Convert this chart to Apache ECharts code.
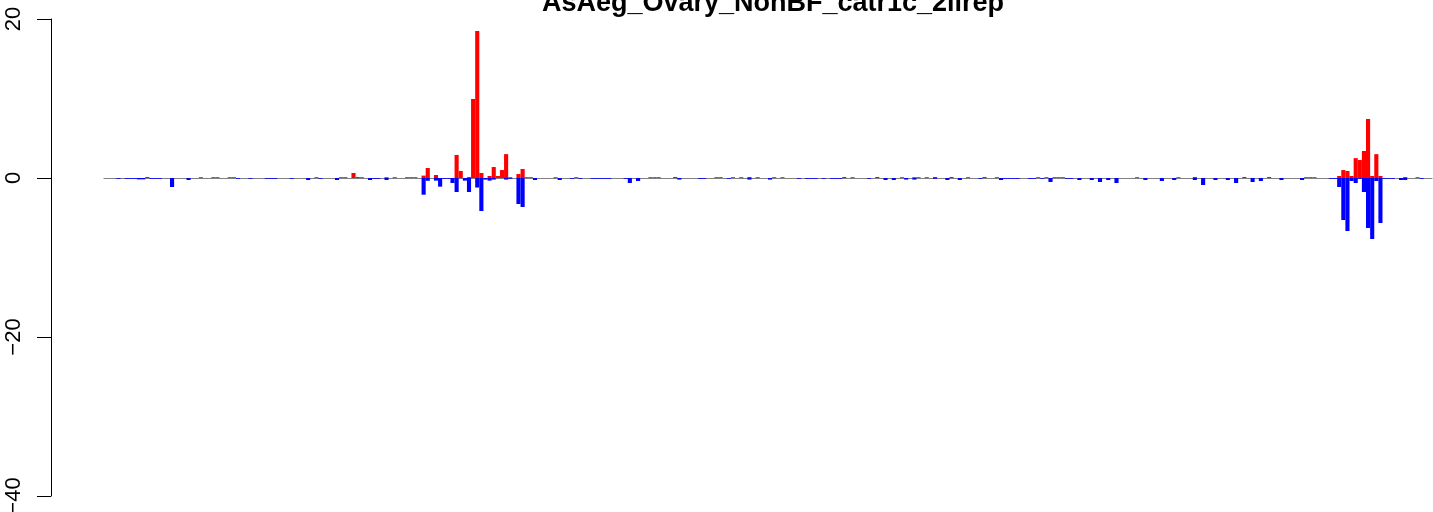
<!DOCTYPE html>
<html>
<head>
<meta charset="utf-8">
<script src="https://cdn.jsdelivr.net/npm/echarts@6/dist/echarts.min.js"></script>
<style>
html,body{margin:0;padding:0;background:#fff;}
#chart{width:1433px;height:512px;}
</style>
</head>
<body>
<div id="chart"></div>
<script>
var titleText = "AsAeg_Ovary_NonBF_catr1c_2ilrep";
var yTicks = [-40, -20, 0, 20];

// positive (red) values per bin, 322 bins
var redValues = [
0,0,0,0,0,0,0,0,0,0, 0.13,0,0,0,0,0,0,0,0,0,
0,0,0,0.1,0,0,0.1,0.1,0,0, 0.1,0.1,0,0,0,0,0,0,0,0,
0,0,0,0,0,0,0,0,0,0, 0,0.1,0,0,0,0,0,0.1,0.1,0,
0.63,0.13,0.1,0,0,0,0,0,0.1,0, 0.1,0,0,0.1,0.1,0.1,0,0.3,1.26,0,
0.38,0,0,0,0,2.9,0.88,0,0.12,9.94, 18.5,0.63,0,0.25,1.38,0.25,1.0,3.0,0.1,0,
0.5,1.13,0.1,0.1,0,0,0,0,0,0.1, 0,0,0,0,0.1,0,0,0,0,0,
0,0,0,0,0,0,0,0,0,0, 0,0,0.1,0.1,0.1,0,0,0,0.13,0,
0,0,0,0,0,0,0,0,0.1,0.1, 0,0,0.1,0,0.1,0,0.13,0,0.1,0,
0,0,0.1,0,0.1,0,0,0,0,0, 0,0,0,0,0,0,0,0,0,0.13,
0,0.1,0,0,0,0,0,0.13,0,0, 0,0,0,0.1,0,0,0.1,0.1,0,0.1,
0,0.13,0,0,0,0.13,0,0,0,0.1, 0,0,0,0.13,0,0,0.1,0,0,0,
0,0,0,0,0,0,0.1,0,0.1,0, 0.1,0.1,0.1,0,0,0,0,0,0,0,
0,0,0,0,0,0,0,0,0,0, 0.1,0,0,0,0,0,0,0,0,0,
0.1,0,0,0,0.13,0,0,0,0,0, 0,0,0,0,0,0,0.13,0,0,0,
0,0,0.13,0,0,0,0,0,0,0, 0,0.1,0.1,0.1,0,0,0,0,0,0.25,
1.0,0.88,0.25,2.5,2.26,3.4,7.42,0.25,3.0,0.25, 0,0,0,0,0,0.12,0,0,0.1,0,
0,0
];

// negative (blue) values per bin
var blueValues = [
0,0,0,-0.1,0,-0.1,-0.1,-0.1,-0.17,-0.17, 0,-0.1,-0.1,-0.1,0,0,-1.13,0,0,0,
-0.25,0,0,0,0,0,0,0,0,0, 0,0,-0.1,0,0,-0.1,0,0,0,-0.1,
-0.1,-0.1,0,0,0,-0.1,0,0,0,-0.25, 0,0,-0.1,0,0,0,-0.25,0,0,0,
0,0,0,0,-0.25,-0.1,-0.1,0,-0.25,0, 0,0,0,0,0,0,0,-2.1,-0.35,0,
-0.33,-1.09,-0.1,-0.1,-0.63,-1.76,0,-0.33,-1.76,0, -1.2,-4.15,-0.2,-0.33,-0.2,0,0,-0.2,-0.1,0,
-3.27,-3.65,0,0,-0.25,0,0,0,0,0, -0.25,0,0,-0.1,0,-0.1,0,0,-0.1,-0.1,
-0.1,-0.1,-0.1,0,0,0,-0.1,-0.63,0,-0.38, 0,0,0,0,0,0,0,0,0,-0.2,
0,0,0,0,-0.1,-0.1,0,0,0,0, 0,-0.1,0,0,0,0,-0.2,0,0,0,
0,-0.2,0,0,0,0,0,0,-0.1,0, -0.1,-0.1,-0.1,0,-0.1,0,-0.1,-0.1,-0.1,0,
0,0,0,0,0,-0.1,0,0,0,-0.25, 0,-0.25,0,0,-0.2,0,-0.2,0,0,0,
0,-0.1,0,0,-0.25,0,0,-0.25,0,0, 0,0,-0.1,0,0,0,0,-0.25,-0.1,-0.1,
-0.1,-0.1,0,0,-0.1,-0.1,0,-0.1,0,-0.5, 0,0,0,-0.1,-0.1,0,-0.25,0,0,-0.25,
0,-0.5,0,-0.25,0,-0.63,0,0,0,0, 0,0,-0.25,0,0,0,-0.38,0,0,-0.25,
0,0,0,0,-0.25,0,-0.88,0,0,-0.25, 0,0,-0.25,0,-0.63,0,0,0,-0.5,0,
-0.38,0,0,0,0,-0.25,0,0,0,0, -0.25,0,0,0,0,0,0,-0.1,-0.1,-1.13,
-5.28,-6.67,-0.38,-0.63,-0.1,-1.76,-6.29,-7.67,-0.38,-5.66, -0.1,-0.1,-0.1,0,-0.25,-0.25,0,0,0,-0.1,
0,0
];

var categories = redValues.map(function (_, i) { return String(i + 1); });

var chart = echarts.init(document.getElementById('chart'), null, {renderer: 'canvas'});
chart.setOption({
  animation: false,
  backgroundColor: '#ffffff',
  title: {
    text: titleText,
    left: 768,
    top: -15,
    textAlign: 'center',
    textStyle: {fontFamily: 'Liberation Sans', fontWeight: 'bold', fontSize: 27, color: '#000'}
  },
  grid: {left: 104, top: 19, width: 1328, height: 477, containLabel: false, outerBoundsMode: 'none'},
  xAxis: {
    type: 'category',
    data: categories,
    boundaryGap: true,
    axisLine: {onZero: true, lineStyle: {color: '#808080', width: 1.2}},
    axisTick: {show: false},
    axisLabel: {show: false},
    splitLine: {show: false}
  },
  yAxis: {
    type: 'value',
    min: yTicks[0],
    max: yTicks[yTicks.length - 1],
    interval: 20,
    offset: 53,
    axisLine: {show: true, lineStyle: {color: '#000', width: 1}},
    axisTick: {show: true, length: 14, lineStyle: {color: '#000', width: 1}},
    axisLabel: {
      rotate: 90,
      margin: 26,
      fontSize: 22,
      fontFamily: 'Liberation Sans',
      color: '#000',
      formatter: function (v) { return String(v).replace('-', '\u2212'); }
    },
    splitLine: {show: false}
  },
  series: [
    {
      type: 'bar',
      data: redValues,
      barWidth: '100%',
      barGap: '-100%',
      itemStyle: {color: '#ff0000'},
      z: 3
    },
    {
      type: 'bar',
      data: blueValues,
      barWidth: '100%',
      barGap: '-100%',
      itemStyle: {color: '#0000ff'},
      z: 3
    }
  ]
});
</script>
</body>
</html>
